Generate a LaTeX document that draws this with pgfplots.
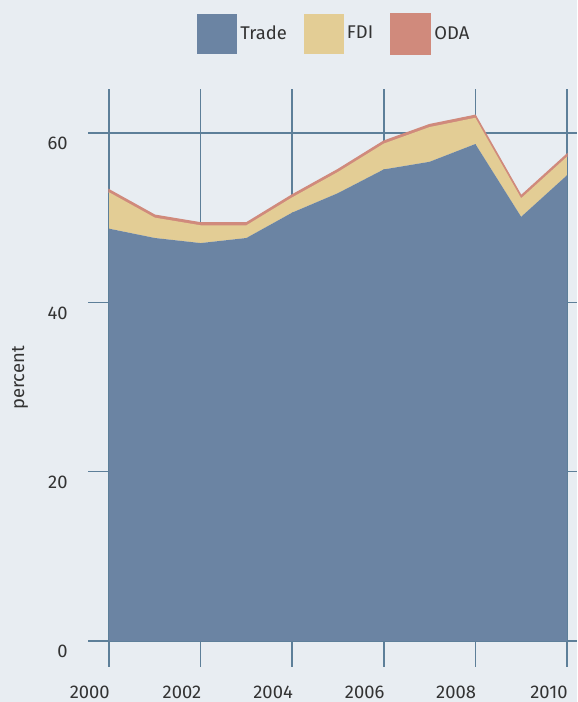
\documentclass[border=0pt]{standalone}
\usepackage{fontspec}
\setmainfont{Fira Sans}
\usepackage{pgfplots}
\pgfplotsset{compat=1.18}
\definecolor{bg}{HTML}{E8EDF2}
\definecolor{tradec}{HTML}{6B84A3}
\definecolor{fdic}{HTML}{E3CD95}
\definecolor{odac}{HTML}{D08A7C}
\definecolor{gridc}{HTML}{5D7F99}
\definecolor{txt}{HTML}{333333}
\begin{document}
\begin{tikzpicture}
\fill[bg] (0,0) rectangle (288.5pt,351pt);
\begin{axis}[
  at={(44pt,17.5pt)}, anchor=south west,
  scale only axis, width=244.5pt, height=289pt,
  xmin=1999.54, xmax=2010.22, ymin=-3.07, ymax=65.2,
  stack plots=y,
  xtick={2000,2002,...,2010}, ytick={0,20,40,60},
  grid=major, major grid style={gridc, line width=0.75pt},
  axis line style={draw=none}, tick style={draw=none},
  font=\fontsize{9.2}{11}\selectfont, tick label style={txt},
  /pgf/number format/assume math mode=true,
  /pgf/number format/set thousands separator={},
  yticklabel style={anchor=north east, inner sep=0pt, xshift=-10pt, yshift=-2pt},
  xticklabel style={anchor=north east, inner sep=0pt, yshift=-9.5pt, xshift=0.5pt},
  ylabel={percent},
  ylabel style={at={(axis description cs:-0.139,0.5)}, anchor=center, rotate=0, txt},
  legend columns=3,
  legend style={at={(0.505,1.095)}, anchor=center, draw=none, fill=none,
    font=\fontsize{9.2}{11}\selectfont, text=txt,
    /tikz/every even column/.append style={column sep=7pt},
    nodes={inner sep=1.5pt}},
]
\addplot[fill=tradec, draw=none,
  legend image code/.code={\fill[tradec] (0pt,-10pt) rectangle (20pt,10pt);}]
  coordinates {(2000,48.7) (2001,47.6) (2002,47.0) (2003,47.6) (2004,50.6) (2005,52.9) (2006,55.7) (2007,56.6) (2008,58.7) (2009,50.1) (2010,55.0)} \closedcycle;
\addlegendentry{Trade}
\addplot[fill=fdic, draw=none,
  legend image code/.code={\fill[fdic] (0pt,-10pt) rectangle (20pt,10pt);}]
  coordinates {(2000,4.3) (2001,2.4) (2002,2.1) (2003,1.5) (2004,1.8) (2005,2.5) (2006,3.05) (2007,4.1) (2008,3.1) (2009,2.2) (2010,2.2)} \closedcycle;
\addlegendentry{FDI}
\addplot[fill=odac, draw=odac, line width=0.6pt,
  legend image code/.code={\fill[odac] (0pt,-10pt) rectangle (20pt,10pt);}]
  coordinates {(2000,0.3) (2001,0.3) (2002,0.3) (2003,0.3) (2004,0.3) (2005,0.3) (2006,0.3) (2007,0.3) (2008,0.3) (2009,0.3) (2010,0.3)} \closedcycle;
\addlegendentry{ODA}
\end{axis}
\end{tikzpicture}
\end{document}
